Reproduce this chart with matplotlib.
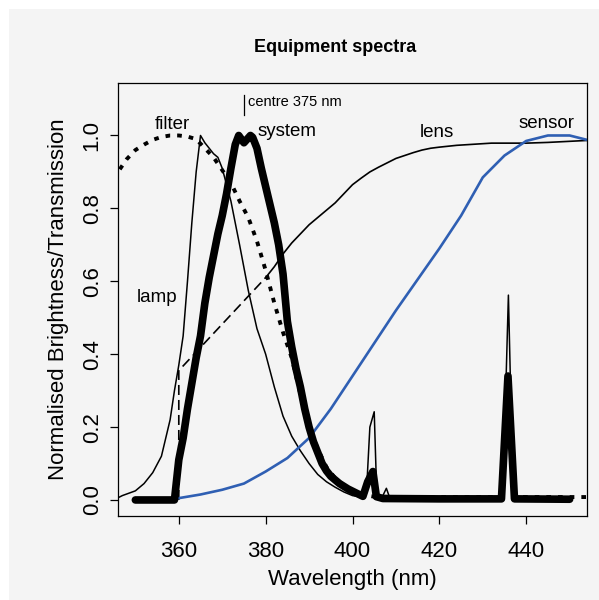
import matplotlib
matplotlib.use('Agg')
import matplotlib.pyplot as plt
from matplotlib.patches import Rectangle

plt.rcParams['font.family'] = ['Liberation Sans', 'DejaVu Sans']

# ----------------- data -----------------
lamp_nm = [345, 347, 350, 352, 354, 356, 357, 358, 359, 360, 361, 362, 363, 364, 365,
           366, 367, 368, 369, 370, 372, 374, 376, 378, 380, 382, 384, 386, 388, 390,
           392, 394, 396, 398, 400, 402, 403.2, 404, 405, 405.6, 407, 407.8, 408.6,
           410, 420, 430, 434.6, 435.9, 437, 438, 450]
lamp_val = [0.0, 0.012, 0.025, 0.045, 0.075, 0.12, 0.17, 0.22, 0.30, 0.37, 0.45, 0.60,
            0.76, 0.90, 1.0, 0.98, 0.965, 0.95, 0.94, 0.91, 0.82, 0.70, 0.575, 0.47,
            0.40, 0.31, 0.23, 0.175, 0.135, 0.10, 0.07, 0.05, 0.035, 0.022, 0.012,
            0.008, 0.018, 0.20, 0.242, 0.01, 0.012, 0.032, 0.005, 0.003, 0.002, 0.002,
            0.003, 0.562, 0.005, 0.002, 0.002]

filter_nm = [345, 346, 348, 350, 352, 354, 356, 358, 360, 362, 364, 366, 368, 370, 372,
             374, 376, 378, 380, 382, 384, 386, 388, 390, 392, 394, 396, 398, 400, 402,
             405, 410, 455]
filter_val = [0.88, 0.90, 0.935, 0.96, 0.975, 0.988, 0.996, 1.0, 1.0, 0.997, 0.99,
              0.965, 0.94, 0.905, 0.87, 0.82, 0.775, 0.71, 0.63, 0.54, 0.46, 0.39,
              0.29, 0.20, 0.14, 0.09, 0.06, 0.04, 0.025, 0.015, 0.009, 0.008, 0.008]

lens_nm = [380, 382, 384, 386, 388, 390, 392, 394, 396, 398, 400, 402, 404, 406, 408,
           410, 412, 414, 416, 418, 420, 424, 428, 432, 440, 445, 450, 455]
lens_val = [0.61, 0.64, 0.675, 0.705, 0.73, 0.755, 0.775, 0.795, 0.815, 0.84, 0.865,
            0.883, 0.90, 0.913, 0.925, 0.937, 0.945, 0.953, 0.96, 0.965, 0.968, 0.973,
            0.976, 0.979, 0.979, 0.981, 0.984, 0.987]
# dashed part where the lens was not measured
lens_gap_nm = [360, 360, 380]
lens_gap_val = [0.0, 0.355, 0.61]

sensor_nm = [360, 365, 370, 375, 380, 385, 390, 395, 400, 405, 410, 415, 420, 425, 430,
             435, 440, 445, 450, 455]
sensor_val = [0.005, 0.015, 0.028, 0.045, 0.078, 0.115, 0.17, 0.25, 0.34, 0.43, 0.52,
              0.605, 0.69, 0.78, 0.885, 0.945, 0.985, 1.0, 1.0, 0.985]

system_nm = [350, 359, 360, 361, 362, 363, 364, 365, 366, 367, 368, 369, 370, 371, 372,
             373, 373.8, 375, 376.5, 377, 378, 379, 380, 381, 382, 383, 384, 385, 386,
             387, 388, 389, 390, 391, 392, 393, 394, 395, 397, 399, 401.7, 402.4, 403.5,
             404.7, 405.5, 407, 420, 434.3, 435.8, 437.3, 450]
system_val = [0.0, 0.0, 0.11, 0.17, 0.25, 0.32, 0.39, 0.45, 0.54, 0.61, 0.67, 0.73,
              0.78, 0.84, 0.91, 0.975, 1.0, 0.98, 1.0, 0.995, 0.965, 0.91, 0.86, 0.81,
              0.76, 0.70, 0.62, 0.49, 0.42, 0.36, 0.31, 0.25, 0.20, 0.16, 0.13, 0.10,
              0.08, 0.065, 0.045, 0.03, 0.014, 0.01, 0.05, 0.078, 0.009, 0.004, 0.003,
              0.003, 0.34, 0.003, 0.002]

xticks = [360, 380, 400, 420, 440]
yticks = [0.0, 0.2, 0.4, 0.6, 0.8, 1.0]
ytick_labels = ['0.0', '0.2', '0.4', '0.6', '0.8', '1.0']

bg = '#f4f4f4'
blue = '#2f5fb3'

# ----------------- plot -----------------
fig = plt.figure(figsize=(5.99, 6.0), dpi=100, facecolor='white')
fig.patches.append(Rectangle((9 / 599., 0), 1 - 9 / 599., 1 - 9 / 600.,
                             transform=fig.transFigure, facecolor=bg,
                             edgecolor='none', zorder=-10))
ax = fig.add_axes([118 / 599., 84 / 600., 469 / 599., 433 / 600.])
ax.set_facecolor(bg)

ax.plot(filter_nm, filter_val, color='black', lw=2.8, linestyle=(0, (1.2, 1.8)),
        dash_capstyle='butt')
ax.plot(lamp_nm, lamp_val, color='black', lw=1.1, solid_joinstyle='round')
ax.plot(lens_gap_nm, lens_gap_val, color='black', lw=1.2, linestyle=(0, (6, 3)))
ax.plot(lens_nm, lens_val, color='black', lw=1.2)
ax.plot(sensor_nm, sensor_val, color=blue, lw=1.9)
ax.plot(system_nm, system_val, color='black', lw=5.5, solid_joinstyle='round',
        solid_capstyle='round')

# labels
ax.text(358.5, 1.03, 'filter', fontsize=13.5, ha='center', va='center')
ax.text(355, 0.556, 'lamp', fontsize=13.5, ha='center', va='center')
ax.text(385, 1.01, 'system', fontsize=13.5, ha='center', va='center')
ax.text(419.4, 1.008, 'lens', fontsize=13.5, ha='center', va='center')
ax.text(444.7, 1.033, 'sensor', fontsize=13.5, ha='center', va='center')
ax.plot([375, 375], [1.055, 1.11], color='black', lw=0.9)
ax.text(376, 1.093, 'centre 375 nm', fontsize=10.5, ha='left', va='center')

ax.set_xlim(346, 454)
ax.set_ylim(-0.044, 1.144)
ax.set_xticks(xticks)
ax.set_yticks(yticks)
ax.set_yticklabels(ytick_labels, rotation=90, va='center')
ax.tick_params(direction='out', length=6, width=0.9, labelsize=16)
ax.tick_params(axis='x', pad=12)
ax.tick_params(axis='y', pad=5)
for s in ax.spines.values():
    s.set_linewidth(0.9)

ax.set_xlabel('Wavelength (nm)', fontsize=16, labelpad=5)
ax.set_ylabel('Normalised Brightness/Transmission', fontsize=16, labelpad=9)
fig.text(335 / 599., 1 - 47 / 600., 'Equipment spectra', fontsize=13,
         fontweight='bold', ha='center', va='center')

fig.savefig('out.png', dpi=100, facecolor=fig.get_facecolor())
